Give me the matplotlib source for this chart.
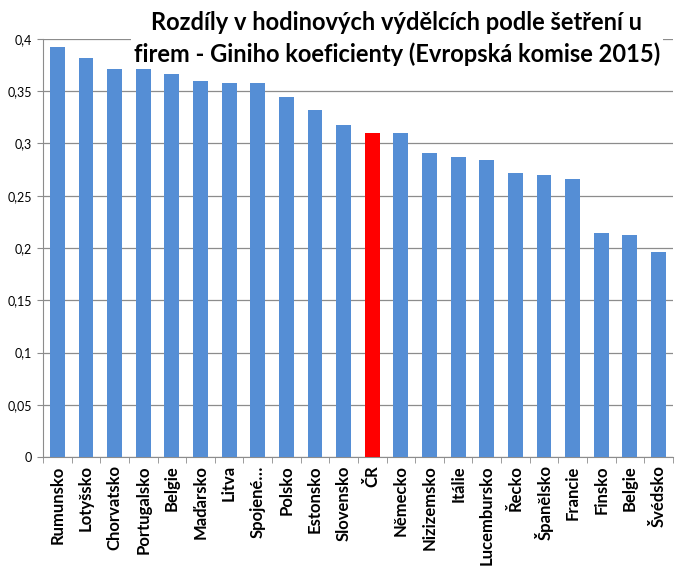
import matplotlib
matplotlib.use("Agg")
import numpy as np
from matplotlib import pyplot as plt
import matplotlib.ticker as mtick

countries = ["Rumunsko", "Lotyšsko", "Chorvatsko", "Portugalsko", "Belgie", "Maďarsko",
             "Litva", "Spojené…", "Polsko", "Estonsko", "Slovensko", "ČR", "Německo",
             "Nizizemsko", "Itálie", "Lucembursko", "Řecko", "Španělsko", "Francie",
             "Finsko", "Belgie", "Švédsko"]
gini = [0.392, 0.382, 0.371, 0.371, 0.366, 0.360, 0.358, 0.358, 0.344, 0.332, 0.318,
        0.310, 0.310, 0.291, 0.287, 0.284, 0.272, 0.270, 0.266, 0.214, 0.212, 0.196]
highlight = "ČR"

title = "Rozdíly v hodinových výdělcích podle šetření u\nfirem - Giniho koeficienty (Evropská komise 2015)"

plt.rcParams['font.family'] = ['Lato', 'DejaVu Sans']

fig = plt.figure(figsize=(6.88, 5.73), dpi=100)
ax = fig.add_axes([0.0625, 0.2024, 0.9155, 0.7296])

x = np.arange(len(countries))
colors = ['#ff0000' if c == highlight else '#558ed5' for c in countries]
ax.bar(x, gini, width=0.52, color=colors, zorder=3)

ax.set_xlim(-0.5, len(countries) - 0.5)
ax.set_ylim(0, 0.4)
ax.yaxis.set_major_locator(mtick.MultipleLocator(0.05))
ax.yaxis.set_major_formatter(mtick.FuncFormatter(
    lambda v, _: "0" if v == 0 else f"{v:.2f}".rstrip("0").replace(".", ",")))
ax.grid(axis='y', color='#8c8c8c', linewidth=0.9, zorder=0)

# category labels centred, ticks between categories (Excel style)
ax.set_xticks(x)
ax.set_xticklabels(countries, rotation=90, fontsize=12, fontweight='bold')
ax.tick_params(axis='x', which='major', length=0, pad=6)
ax.set_xticks(np.arange(-0.5, len(countries)), minor=True)
ax.tick_params(axis='x', which='minor', length=4, color='#8c8c8c')
ax.tick_params(axis='y', labelsize=9, length=4, color='#8c8c8c', pad=4)

for side in ['top', 'right']:
    ax.spines[side].set_visible(False)
for side in ['left', 'bottom']:
    ax.spines[side].set_color('#8c8c8c')

fig.text(0.577, 0.933, title, ha='center', va='center', fontsize=17,
         fontweight='bold', linespacing=1.45,
         bbox=dict(facecolor='white', edgecolor='none', pad=2))

plt.savefig("out.png", dpi=100)
